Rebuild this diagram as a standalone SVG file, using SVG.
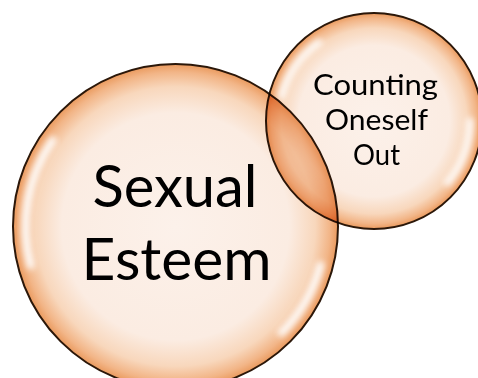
<svg xmlns="http://www.w3.org/2000/svg" width="478" height="378" viewBox="0 0 478 378">
  <defs>
    <radialGradient id="bubble" cx="0.5" cy="0.5" r="0.5">
      <stop offset="0" stop-color="#fcf1ea"/>
      <stop offset="0.7" stop-color="#fbece2"/>
      <stop offset="0.86" stop-color="#f8d7bc"/>
      <stop offset="0.95" stop-color="#f2b587"/>
      <stop offset="1" stop-color="#ea9a5e"/>
    </radialGradient>
    <filter id="soft" x="-30%" y="-30%" width="160%" height="160%">
      <feGaussianBlur stdDeviation="3.2"/>
    </filter>
  </defs>
  <style>
    .bubble { fill: url(#bubble); stroke: #2b1709; stroke-width: 2; }
    .gloss { fill: none; stroke: #ffffff; stroke-linecap: round; filter: url(#soft); }
    .label { font-family: Lato, "Open Sans", "DejaVu Sans", sans-serif; fill: #000000; text-anchor: middle; }
  </style>
  <rect width="478" height="378" fill="#ffffff"/>
  <g id="sexual-esteem">
    <circle class="bubble" cx="175.5" cy="226.5" r="162.5"/>
    <path class="gloss" d="M 52.6 140.5 A 151 151 0 0 0 30.6 265.3" stroke-width="8" opacity="0.95"/>
    <path class="gloss" d="M 320.4 265.3 A 151 151 0 0 1 281.6 332.6" stroke-width="8" opacity="0.95"/>
    <text class="label" x="175" y="206.5" font-size="59" textLength="165" lengthAdjust="spacingAndGlyphs">Sexual</text>
    <text class="label" x="176.5" y="280" font-size="59" textLength="190" lengthAdjust="spacingAndGlyphs">Esteem</text>
  </g>
  <g id="counting-oneself-out" style="mix-blend-mode: multiply">
    <circle class="bubble" cx="374" cy="121" r="108"/>
    <path class="gloss" d="M 318.9 42.4 A 97 97 0 0 0 281.3 96.2" stroke-width="7" opacity="0.95"/>
    <path class="gloss" d="M 470 121 A 97 97 0 0 1 447.5 182.7" stroke-width="7" opacity="0.95"/>
  </g>
  <g id="counting-oneself-out-label">
    <text class="label" x="375.5" y="95" font-size="29" textLength="125" lengthAdjust="spacingAndGlyphs">Counting</text>
    <text class="label" x="376.5" y="130" font-size="29" textLength="103" lengthAdjust="spacingAndGlyphs">Oneself</text>
    <text class="label" x="376.5" y="165" font-size="29" textLength="47" lengthAdjust="spacingAndGlyphs">Out</text>
  </g>
  <g id="connectors"/>
</svg>
